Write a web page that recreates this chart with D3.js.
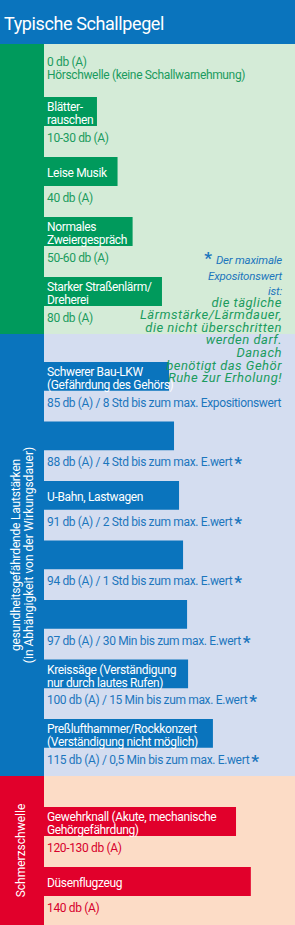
<!DOCTYPE html>
<html>
<head>
<meta charset="utf-8">
<script src="https://cdn.jsdelivr.net/npm/d3@7"></script>
<style>
  body { margin: 0; background: #fff; }
  text { font-family: Roboto, "Noto Sans", sans-serif; }
</style>
</head>
<body>
<div id="canvas"></div>
<script>
const title = "Typische Schallpegel";

// oberste Zeile ohne Balken
const quietLines = ["0 db (A)", "Hörschwelle (keine Schallwarnehmung)"];

// grüner Bereich
const greenLabels = [["Blätter-", "rauschen"], ["Leise Musik"], ["Normales", "Zweiergespräch"], ["Starker Straßenlärm/", "Dreherei"]];
const greenValues = ["10-30 db (A)", "40 db (A)", "50-60 db (A)", "80 db (A)"];
const greenBars = [21.1, 29.3, 35.3, 47.0];
const greenStars = [false, false, false, false];

// blauer Bereich
const blueTitle = ["gesundheitsgefährdende Lautstärken", "(in Abhängigkeit von der Wirkungsdauer)"];
const blueLabels = [["Schwerer Bau-LKW", "(Gefährdung des Gehörs)"], [], ["U-Bahn, Lastwagen"], [], [], ["Kreissäge (Verständigung", "nur durch lautes Rufen)"], ["Preßlufthammer/Rockkonzert", "(Verständigung nicht möglich)"]];
const blueValues = [
  "85 db (A) / 8 Std bis zum max. Expositionswert",
  "88 db (A) / 4 Std bis zum max. E.wert",
  "91 db (A) / 2 Std bis zum max. E.wert",
  "94 db (A) / 1 Std bis zum max. E.wert",
  "97 db (A) / 30 Min bis zum max. E.wert",
  "100 db (A) / 15 Min bis zum max. E.wert",
  "115 db (A) / 0,5 Min bis zum max. E.wert"
];
const blueBars = [49.8, 51.8, 53.8, 55.4, 57.0, 57.4, 67.3];
const blueStars = [false, true, true, true, true, true, true];

// roter Bereich
const redTitle = ["Schmerzschwelle"];
const redLabels = [["Gewehrknall (Akute, mechanische", "Gehörgefährdung)"], ["Düsenflugzeug"]];
const redValues = ["120-130 db (A)", "140 db (A)"];
const redBars = [76.5, 82.4];
const redStars = [false, false];

// Fußnote
const noteBlue = ["Der maximale", "Expositonswert", "ist:"];
const noteGreen = ["die tägliche", "Lärmstärke/Lärmdauer,", "die nicht überschritten", "werden darf.", "Danach", "benötigt das Gehör", "Ruhe zur Erholung!"];

const width = 295;
const height = 925;
const colLeft = 44;

const svg = d3.select("#canvas").append("svg").attr("width", width).attr("height", height);

const x = d3.scaleLinear().domain([0, 100]).range([colLeft, width]);

const sections = [
  { top: 44, bottom: 334, first: 97, step: 60, col: "#009a5c", bg: "#d4ebd7", ink: "#1b9b5e",
    labels: greenLabels, values: greenValues, bars: greenBars, stars: greenStars, side: [] },
  { top: 334, bottom: 776, first: 362, step: 59.5, col: "#0a74bd", bg: "#d4ddf0", ink: "#1c76bd",
    labels: blueLabels, values: blueValues, bars: blueBars, stars: blueStars, side: blueTitle },
  { top: 776, bottom: 925, first: 807, step: 60, col: "#e1002b", bg: "#fcdcc6", ink: "#d7002c",
    labels: redLabels, values: redValues, bars: redBars, stars: redStars, side: redTitle }
];

// Titelleiste
svg.append("rect").attr("x", 0).attr("y", 0).attr("width", width).attr("height", 44).attr("fill", "#0a74bd");
svg.append("text")
  .attr("x", 4)
  .attr("y", 29.5)
  .attr("fill", "#fff")
  .style("font-size", "18px")
  .style("letter-spacing", "-0.4px")
  .text(title);

sections.forEach((s) => {
  svg.append("rect").attr("x", colLeft).attr("y", s.top).attr("width", width - colLeft).attr("height", s.bottom - s.top).attr("fill", s.bg);
  svg.append("rect").attr("x", 0).attr("y", s.top).attr("width", colLeft).attr("height", s.bottom - s.top).attr("fill", s.col);

  const n = s.bars.length;
  const y = d3.scaleBand()
    .domain(d3.range(n))
    .range([s.first, s.first + n * s.step])
    .paddingInner(0.5)
    .paddingOuter(0.25)
    .align(0);

  const g = svg.append("g");

  g.selectAll("rect.bar")
    .data(s.bars)
    .enter()
    .append("rect")
    .attr("class", "bar")
    .attr("fill", s.col)
    .attr("x", x(0))
    .attr("y", (d, i) => y(i))
    .attr("width", (d) => x(d) - x(0))
    .attr("height", y.bandwidth() - 1);

  g.selectAll("text.label")
    .data(s.labels)
    .enter()
    .append("text")
    .attr("class", "label")
    .attr("fill", "#fff")
    .style("font-size", "12px")
    .style("letter-spacing", "-0.35px")
    .each(function (d, i) {
      const t = d3.select(this);
      d.forEach((line, k) => {
        t.append("tspan")
          .attr("x", 47)
          .attr("y", d.length === 1 ? y(i) + 19.5 : y(i) + 14 + k * 13)
          .text(line);
      });
    });

  g.selectAll("text.value")
    .data(s.values)
    .enter()
    .append("text")
    .attr("class", "value")
    .attr("fill", s.ink)
    .style("font-size", "12px")
    .style("letter-spacing", "-0.35px")
    .attr("x", 47)
    .attr("y", (d, i) => y(i) + 44.5)
    .each(function (d, i) {
      const t = d3.select(this);
      t.append("tspan").text(d);
      if (s.stars[i]) {
        t.append("tspan").attr("dx", 2).attr("dy", 3).style("font-size", "17px").style("font-weight", "bold").text("*");
      }
    });

  // senkrechte Beschriftung in der linken Spalte
  const mid = (s.top + s.bottom) / 2;
  s.side.forEach((line, k) => {
    const bx = s.side.length === 1 ? 25 : 19.5 + k * 13;
    svg.append("text")
      .attr("transform", `translate(${bx}, ${mid}) rotate(-90)`)
      .attr("text-anchor", "middle")
      .attr("fill", "#fff")
      .style("font-size", "12px")
      .style("letter-spacing", k === 0 && s.side.length > 1 ? "-0.2px" : "0px")
      .text(line);
  });
});

// erste Zeile (Hörschwelle)
svg.append("g")
  .selectAll("text")
  .data(quietLines)
  .enter()
  .append("text")
  .attr("x", 47)
  .attr("y", (d, i) => 65.5 + i * 13)
  .attr("fill", "#1b9b5e")
  .style("font-size", "12px")
  .style("letter-spacing", "-0.35px")
  .text((d) => d);

// Fußnote rechts
const note = svg.append("g").style("font-style", "italic").attr("text-anchor", "end");
note.selectAll("text.blue")
  .data(noteBlue)
  .enter()
  .append("text")
  .attr("class", "blue")
  .attr("x", 282)
  .attr("y", (d, i) => 264 + i * 15.5)
  .attr("fill", "#1c76bd")
  .style("font-size", "11.5px")
  .style("letter-spacing", "-0.2px")
  .text((d) => d);
note.append("text")
  .attr("x", 282 - 70)
  .attr("y", 264)
  .attr("fill", "#1c76bd")
  .style("font-size", "17px")
  .style("font-weight", "bold")
  .style("font-style", "normal")
  .text("*");
note.selectAll("text.green")
  .data(noteGreen)
  .enter()
  .append("text")
  .attr("class", "green")
  .attr("x", 282)
  .attr("y", (d, i) => 306.5 + i * 12.6)
  .attr("fill", "#1b9b5e")
  .style("font-size", "13px")
  .style("letter-spacing", "0.5px")
  .text((d) => d);
</script>
</body>
</html>
